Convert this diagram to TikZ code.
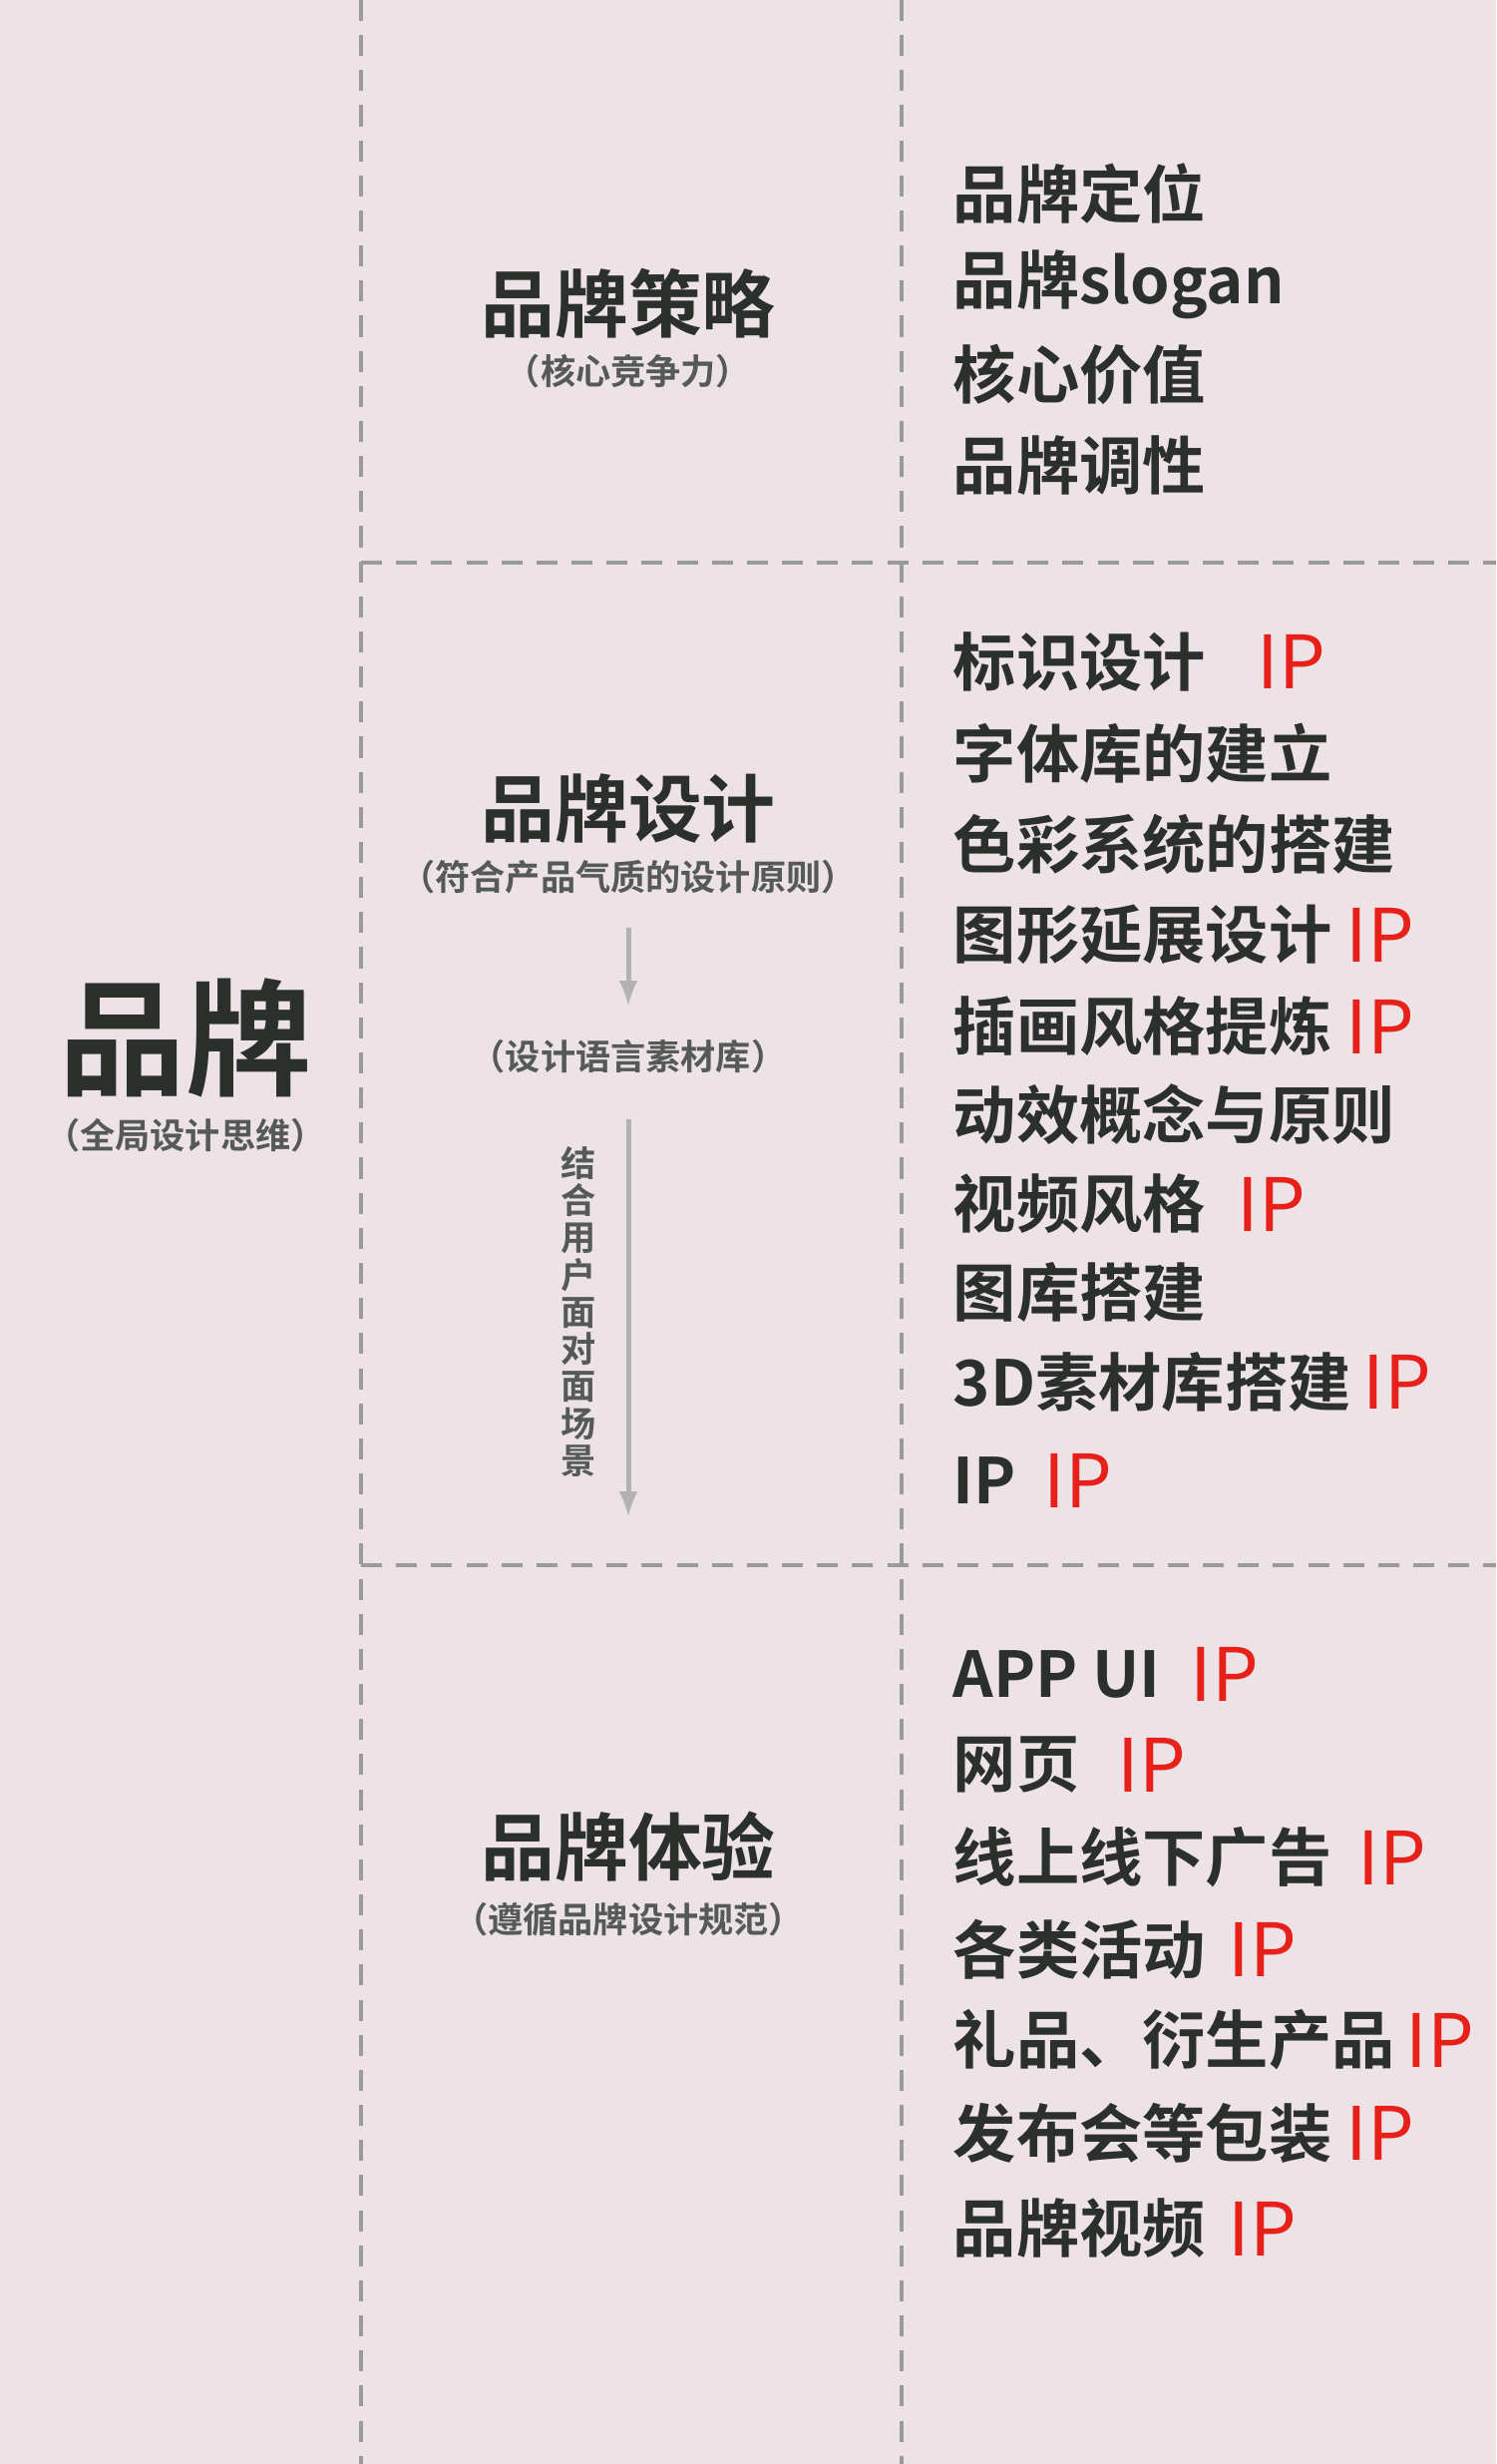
\documentclass[tikz,border=0pt]{standalone}
\usepackage{fontspec}
\setmainfont{Noto Sans CJK SC}
\newfontfamily\cjkbold{Noto Sans CJK SC Bold}
\usetikzlibrary{positioning}
\definecolor{bgpink}{HTML}{EDE3E6}
\definecolor{ink}{HTML}{2B302C}
\definecolor{ipred}{HTML}{E8201A}
\definecolor{rule}{HTML}{9A9A9A}
\tikzstyle{sep} = [rule,line width=0.4mm,dash pattern=on 6pt off 4pt]
\tikzstyle{item} = [anchor=west,inner sep=0pt,text=ink,font=\cjkbold\fontsize{18}{20}\selectfont]
\tikzstyle{ip} = [anchor=west,inner sep=0pt,text=ipred,font=\fontsize{21}{22}\selectfont]
\tikzstyle{head} = [inner sep=0pt,text=ink,font=\cjkbold\fontsize{21}{24}\selectfont]
\tikzstyle{sub} = [inner sep=0pt,text=ink!80,font=\cjkbold\fontsize{10}{12}\selectfont]
\tikzstyle{arrow} = [line width=0.5mm,gray!60,->,>=latex]
\begin{document}
\begin{tikzpicture}[x=0.01cm,y=-0.01cm]
        \fill[bgpink] (0,0) rectangle (1500,2470);
        \useasboundingbox (0,0) rectangle (1500,2470);
        % grid
        \draw[sep] (362,0) -- (362,2470);
        \draw[sep] (904,0) -- (904,2470);
        \draw[sep] (362,564) -- (1500,564);
        \draw[sep] (362,1569) -- (1500,1569);
        % left column
        \node[inner sep=0pt,text=ink,font=\cjkbold\fontsize{36}{40}\selectfont] (brand) at (186,1040) {品牌};
        \node[sub] (brandsub) at (186,1138) {（全局设计思维）};
        % middle column
        \node[head] (strategy) at (630,304) {品牌策略};
        \node[sub] (strategysub) at (630,372) {（核心竞争力）};
        \node[head] (design) at (630,810) {品牌设计};
        \node[sub] (designsub) at (630,879) {（符合产品气质的设计原则）};
        \coordinate (a1) at (630,930);
        \coordinate (a2) at (630,1008);
        \draw[arrow] (a1) -- (a2);
        \node[sub] (library) at (630,1059) {（设计语言素材库）};
        \coordinate (b1) at (630,1122);
        \coordinate (b2) at (630,1520);
        \draw[arrow] (b1) -- (b2);
        \node[sub,align=center,font=\cjkbold\fontsize{10}{10.6}\selectfont] (scene) at (580,1315) {结\\合\\用\\户\\面\\对\\面\\场\\景};
        \node[head] (experience) at (630,1851) {品牌体验};
        \node[sub] (experiencesub) at (630,1924) {（遵循品牌设计规范）};
        % strategy items
        \node[item] (s1) at (955,194) {品牌定位};
        \node[item] (s2) at (955,285) {品牌slogan};
        \node[item] (s3) at (955,375) {核心价值};
        \node[item] (s4) at (955,466) {品牌调性};
        % design items
        \node[item] (d1) at (955,663) {标识设计};
        \node[ip] (d1ip) at (1260,663) {IP};
        \node[item] (d2) at (955,755) {字体库的建立};
        \node[item] (d3) at (955,846) {色彩系统的搭建};
        \node[item] (d4) at (955,937) {图形延展设计};
        \node[ip] (d4ip) at (1349,937) {IP};
        \node[item] (d5) at (955,1029) {插画风格提炼};
        \node[ip] (d5ip) at (1349,1029) {IP};
        \node[item] (d6) at (955,1117) {动效概念与原则};
        \node[item] (d7) at (955,1207) {视频风格};
        \node[ip] (d7ip) at (1240,1207) {IP};
        \node[item] (d8) at (955,1295) {图库搭建};
        \node[item] (d9) at (955,1385) {3D素材库搭建};
        \node[ip] (d9ip) at (1366,1385) {IP};
        \node[item] (d10) at (955,1484) {IP};
        \node[ip] (d10ip) at (1046,1484) {IP};
        % experience items
        \node[item] (e1) at (955,1678) {APP UI};
        \node[ip] (e1ip) at (1193,1678) {IP};
        \node[item] (e2) at (955,1769) {网页};
        \node[ip] (e2ip) at (1120,1769) {IP};
        \node[item] (e3) at (955,1862) {线上线下广告};
        \node[ip] (e3ip) at (1361,1862) {IP};
        \node[item] (e4) at (955,1954) {各类活动};
        \node[ip] (e4ip) at (1231,1954) {IP};
        \node[item] (e5) at (955,2045) {礼品、衍生产品};
        \node[ip] (e5ip) at (1409,2045) {IP};
        \node[item] (e6) at (955,2138) {发布会等包装};
        \node[ip] (e6ip) at (1349,2138) {IP};
        \node[item] (e7) at (955,2234) {品牌视频};
        \node[ip] (e7ip) at (1231,2234) {IP};
      \end{tikzpicture}
\end{document}
